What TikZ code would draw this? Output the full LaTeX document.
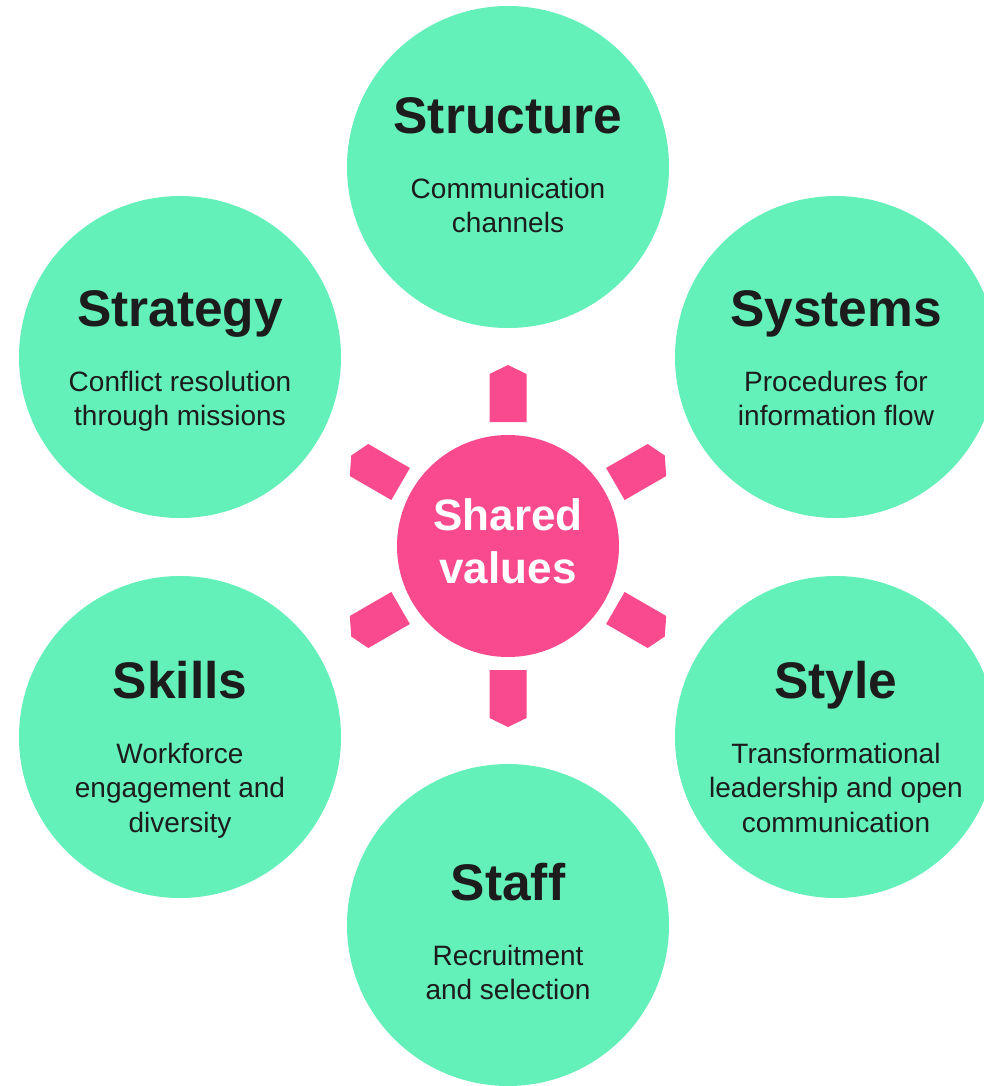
\documentclass[tikz,border=0pt]{standalone}
\usepackage{fontspec}
\setmainfont{Liberation Sans}
\usetikzlibrary{positioning}
\definecolor{mintgreen}{RGB}{99,240,185}
\definecolor{hotpink}{RGB}{250,74,142}
\definecolor{inkgray}{RGB}{28,28,28}

\begin{document}
\begin{tikzpicture}[x=0.75pt,y=-0.75pt,
  element/.style={circle, fill=mintgreen, minimum size=241.5pt, inner sep=0pt},
  core/.style={circle, fill=hotpink, minimum size=166.5pt, inner sep=0pt, text=white,
    font=\fontsize{33}{40.5}\selectfont\bfseries, align=center},
  heading/.style={font=\fontsize{38.6}{40}\selectfont\bfseries, text=inkgray, inner sep=0pt,
    text height=29pt, text depth=9.5pt},
  blurb/.style={font=\fontsize{21}{25.8}\selectfont, text=inkgray, align=center, inner sep=0pt}]
  \useasboundingbox (0,0) rectangle (984,1086);

  % the six elements round the centre
  \node[element] (structure) at (508,167) {};
  \node[element] (systems) at (836,357) {};
  \node[element] (style) at (836,737) {};
  \node[element] (staff) at (508,925) {};
  \node[element] (skills) at (180,737) {};
  \node[element] (strategy) at (180,357) {};

  % centre with its six tabs
  \node[core] (shared) at (508,546) {\raisebox{2.2pt}{\begin{tabular}{@{}c@{}}Shared\\[-1.2pt]values\end{tabular}}};
  \foreach \a in {90,30,-30,-90,-150,150}
    \fill[hotpink, shift={(shared.center)}, rotate=\a]
      (124,-18.5) -- (172,-18.5) -- (181,0) -- (172,18.5) -- (124,18.5) -- cycle;

  % headings
  \node[heading] (structure-t) at (508,120) {Structure};
  \node[heading] (systems-t) at (836,313) {Systems};
  \node[heading] (style-t) at (836,685) {Style};
  \node[heading] (staff-t) at (508,887) {Staff};
  \node[heading] (skills-t) at (180,685) {Skills};
  \node[heading] (strategy-t) at (180,313) {Strategy};

  % descriptions
  \node[blurb, below=24pt of structure-t] (structure-d) {Communication\\channels};
  \node[blurb, below=24pt of systems-t] (systems-d) {Procedures for\\information flow};
  \node[blurb, below=24pt of style-t] (style-d) {Transformational\\leadership and open\\communication};
  \node[blurb, below=24pt of staff-t] (staff-d) {Recruitment\\and selection};
  \node[blurb, below=24pt of skills-t] (skills-d) {Workforce\\engagement and\\diversity};
  \node[blurb, below=24pt of strategy-t] (strategy-d) {Conflict resolution\\through missions};
\end{tikzpicture}
\end{document}
